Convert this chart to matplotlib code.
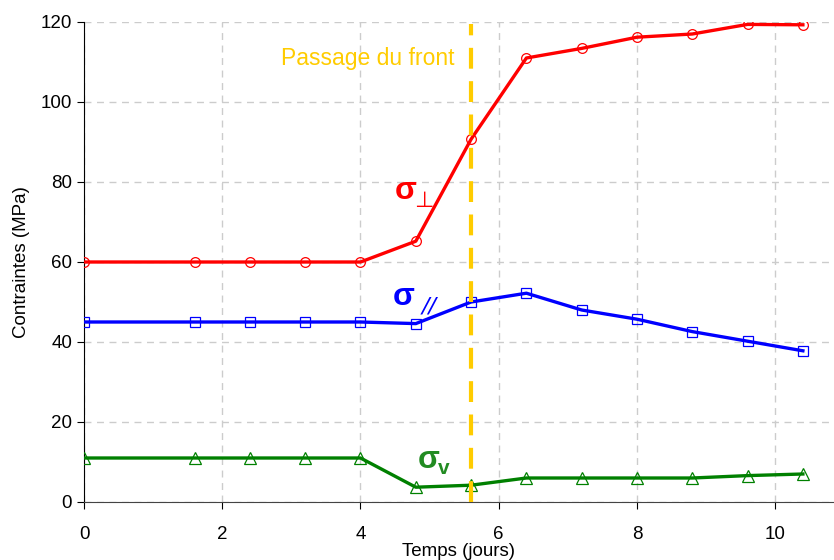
import matplotlib
matplotlib.use('Agg')
import matplotlib.pyplot as plt

plt.rcParams['font.family'] = ['Liberation Sans', 'DejaVu Sans']

# temps (jours)
temps = [0, 1.6, 2.4, 3.2, 4.0, 4.8, 5.6, 6.4, 7.2, 8.0, 8.8, 9.6, 10.4]
sig_perp = [60, 60, 60, 60, 60, 65.2, 90.7, 111, 113.4, 116.2, 117, 119.4, 119.3]
sig_par = [45, 45, 45, 45, 45, 44.6, 50, 52.2, 48, 45.7, 42.6, 40.2, 37.8]
sig_v = [11, 11, 11, 11, 11, 3.7, 4.2, 6, 6, 6, 6, 6.6, 7]
t_front = 5.6

fig = plt.figure(figsize=(8.34, 5.6), dpi=100)
ax = fig.add_axes([84/834, 58/560, 750/834, 480/560])

gold = '#FFCC00'
ax.axvline(t_front, ymax=0.995, color=gold, lw=3, dashes=(5, 3), zorder=4)

ax.plot(temps, sig_perp, color='#FF0000', lw=2.4, marker='o', ms=7,
        mfc='none', mec='#FF0000', mew=0.9, zorder=3)
ax.plot(temps, sig_par, color='#0000FF', lw=2.4, marker='s', ms=7,
        mfc='none', mec='#0000FF', mew=0.9, zorder=3)
ax.plot(temps, sig_v, color='#008000', lw=2.4, marker='^', ms=8,
        mfc='none', mec='#008000', mew=0.9, zorder=3)

# annotations
ax.text(4.1, 111, 'Passage du front', color=gold, fontsize=16.5,
        ha='center', va='center')
ax.text(4.65, 77.7, 'σ', color='#FF0000', fontsize=23, fontweight='bold',
        ha='center', va='center')
ax.text(4.92, 75.3, '⊥', color='#FF0000', fontsize=16,
        ha='center', va='center', family=['DejaVu Sans'])
ax.text(4.62, 51.3, 'σ', color='#0000FF', fontsize=23, fontweight='bold',
        ha='center', va='center')
ax.text(4.99, 48.8, '//', color='#0000FF', fontsize=16, style='italic',
        ha='center', va='center', family=['DejaVu Sans'])
ax.text(4.98, 10.6, 'σ', color='#228B22', fontsize=23, fontweight='bold',
        ha='center', va='center')
ax.text(5.2, 8.4, 'v', color='#228B22', fontsize=15, fontweight='bold',
        ha='center', va='center')

ax.set_xlim(0, 10.85)
ax.set_ylim(0, 120)
ax.set_xticks([0, 2, 4, 6, 8, 10])
ax.set_yticks([0, 20, 40, 60, 80, 100, 120])
ax.grid(True, color='#CCCCCC', lw=1, dashes=(5, 4))
ax.set_axisbelow(True)

for s in ['top', 'right']:
    ax.spines[s].set_visible(False)
ax.spines['left'].set_color('black')
ax.spines['bottom'].set_color('#444444')
ax.tick_params(axis='both', labelsize=13.5, length=5, direction='out')
ax.tick_params(axis='x', pad=12)

ax.set_xlabel('Temps (jours)', fontsize=13.5, labelpad=0)
ax.set_ylabel('Contraintes (MPa)', fontsize=13.5, labelpad=8)

fig.savefig('out.png', dpi=100)
